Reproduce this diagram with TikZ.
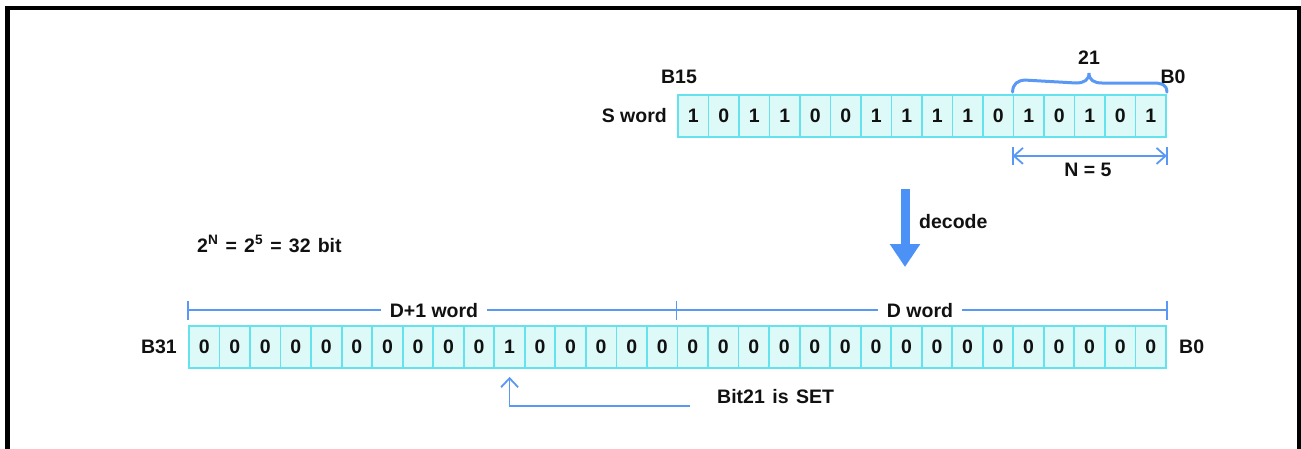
\documentclass[tikz,border=0pt]{standalone}
\usepackage{fontspec}
\setmainfont{Liberation Sans}
\usetikzlibrary{arrows.meta,calc}
\definecolor{cellfill}{RGB}{222,250,248}
\definecolor{cellline}{RGB}{100,226,238}
\definecolor{bline}{RGB}{90,152,245}
\definecolor{barrow}{RGB}{76,146,246}
\definecolor{txt}{RGB}{17,17,17}
\newcommand{\lblfont}{\fontsize{19.5}{22}\selectfont\bfseries}
\tikzset{
  lbl/.style={font=\lblfont, text=txt, inner sep=0pt},
  cellbox/.style={lbl, draw=cellline, fill=cellfill, line width=1.8pt, minimum height=42pt, inner sep=0pt},
  dimline/.style={draw=bline, line width=1.8pt},
}
\begin{document}
\begin{tikzpicture}[x=1pt,y=-1pt]
\useasboundingbox (0,0) rectangle (1301,448);
% frame
\draw[line width=4.6pt, line join=miter] (7.5,452) -- (7.5,8) -- (1299,8) -- (1299,452);

% S word cells
\foreach \bv [count=\i from 0] in {1,0,1,1,0,0,1,1,1,1,0,1,0,1,0,1}
  \node[cellbox, minimum width=30.5pt] (s\i) at ({678+30.5*(\i+0.5)},116) {\bv};
% D cells
\foreach \bv [count=\i from 0] in {0,0,0,0,0,0,0,0,0,0,1,0,0,0,0,0,0,0,0,0,0,0,0,0,0,0,0,0,0,0,0,0}
  \node[cellbox, minimum width=30.53pt] (d\i) at ({189+30.53*(\i+0.5)},347) {\bv};

% labels
\node[lbl, anchor=east] (sword) at (667,116) {S word};
\node[lbl] (b15) at (679,77) {B15};
\node[lbl] (b0s) at (1173,77) {B0};
\node[lbl] (n21) at (1089,58) {21};
\node[lbl] (n5) at (1088,170) {N = 5};
\node[lbl, anchor=west] (dec) at (919,222) {decode};
\node[lbl, anchor=base west] (pow) at (197,252.5) {\spaceskip=7.2pt\relax 2\textsuperscript{N} = 2\textsuperscript{5} = 32 bit};
\node[lbl, anchor=east] (b31) at (177,347) {B31};
\node[lbl, anchor=west] (b0d) at (1179,347) {B0};
\node[lbl, anchor=west] (bitset) at (717,397) {\spaceskip=7.5pt\relax Bit21 is SET};

% brace over bits 4..0
\draw[bline, line width=3pt, line cap=round]
  ($(s11.north west)+(0,-2)$) .. controls +(0,-8) and +(-8,0) .. ++(13,-12)
  -- (1076,83) .. controls (1084,83) and (1089,80) .. (1089,73)
  .. controls (1089,80) and (1094,83) .. (1102,83)
  -- (1153,83) .. controls +(8,0) and +(0,-8) .. ($(s15.north east)+(0,-2)$);

% N = 5 dimension
\coordinate (na) at ($(s11.south west)+(0,18)$);
\coordinate (nb) at ($(s15.south east)+(0,18)$);
\draw[dimline, {Straight Barb[length=9pt,width=16pt]}-{Straight Barb[length=9pt,width=16pt]}] (na) -- (nb);
\draw[dimline] ($(na)+(0,-9)$) -- ($(na)+(0,9)$);
\draw[dimline] ($(nb)+(0,-9)$) -- ($(nb)+(0,9)$);

% decode arrow
\coordinate (da) at (905,189);
\coordinate (db) at (905,267);
\draw[barrow, line width=9pt, -{Triangle[length=23pt,width=29pt]}] (da) -- (db);

% D+1 / D word dimension
\coordinate (dl) at ($(d0.north west)+(0,-15)$);
\coordinate (dm) at ($(d16.north west)+(0,-15)$);
\coordinate (dr) at ($(d31.north east)+(0,-15)$);
\draw[dimline] (dl) -- (dr);
\foreach \c in {dl,dm,dr}
  \draw[dimline] ($(\c)+(0,-9.5)$) -- ($(\c)+(0,9.5)$);
\node[lbl, fill=white, inner xsep=9pt, inner ysep=2pt] (dp1) at (434,311) {D+1 word};
\node[lbl, fill=white, inner xsep=9pt, inner ysep=2pt] (dw) at (920,311) {D word};

% bit 21 arrow
\coordinate (bs) at (690,406);
\draw[dimline, -{Straight Barb[length=9pt,width=17pt]}] (bs) -| ($(d10.south)+(0,8)$);
\end{tikzpicture}
\end{document}
